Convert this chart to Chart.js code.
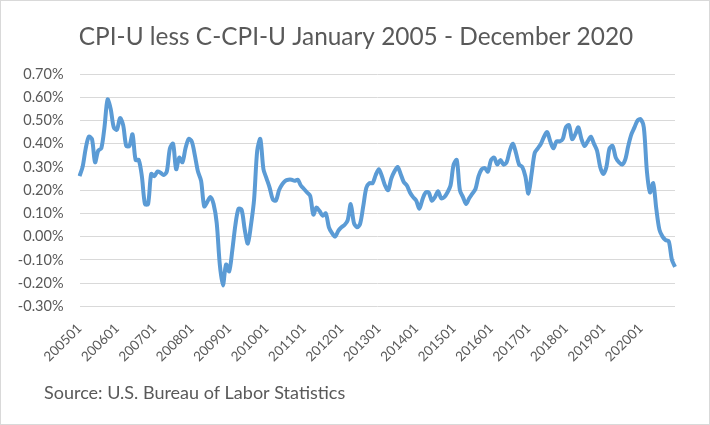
<!DOCTYPE html>
<html><head><meta charset="utf-8">
<script src="https://cdn.jsdelivr.net/npm/chart.js@4/dist/chart.umd.min.js"></script>
<style>html,body{margin:0;padding:0;background:#fff}canvas{display:block}</style>
</head><body>
<canvas id="c" width="710" height="425"></canvas>
<script>
const titleText = "CPI-U less C-CPI-U January 2005 - December 2020";
const sourceText = "Source: U.S. Bureau of Labor Statistics";
const years = [2005,2006,2007,2008,2009,2010,2011,2012,2013,2014,2015,2016,2017,2018,2019,2020];
const monthCodes = ["01","02","03","04","05","06","07","08","09","10","11","12"];
// CPI-U less C-CPI-U, percentage points, one row per year
const diff = [
  0.26,0.30,0.38,0.43,0.42,0.32,0.37,0.38,0.47,0.59,0.55,0.47,
  0.46,0.51,0.48,0.39,0.39,0.44,0.33,0.33,0.26,0.14,0.14,0.27,
  0.26,0.28,0.275,0.265,0.28,0.38,0.40,0.29,0.34,0.32,0.38,0.42,
  0.41,0.35,0.28,0.24,0.13,0.15,0.17,0.14,0.06,-0.12,-0.21,-0.12,
  -0.15,-0.06,0.05,0.12,0.115,0.03,-0.03,0.05,0.16,0.37,0.42,0.29,
  0.25,0.21,0.16,0.155,0.20,0.225,0.24,0.245,0.245,0.24,0.245,0.22,
  0.205,0.19,0.175,0.095,0.125,0.11,0.09,0.10,0.04,0.015,0.00,0.025,
  0.04,0.05,0.07,0.14,0.06,0.04,0.055,0.13,0.21,0.23,0.23,0.265,
  0.29,0.26,0.22,0.20,0.25,0.28,0.30,0.27,0.235,0.22,0.19,0.17,
  0.155,0.12,0.16,0.19,0.19,0.155,0.17,0.195,0.165,0.17,0.19,0.22,
  0.31,0.33,0.20,0.17,0.14,0.165,0.185,0.205,0.26,0.29,0.295,0.28,
  0.33,0.34,0.31,0.33,0.31,0.32,0.37,0.40,0.36,0.31,0.30,0.26,
  0.185,0.27,0.36,0.38,0.40,0.43,0.45,0.41,0.38,0.41,0.41,0.42,
  0.47,0.48,0.42,0.44,0.47,0.42,0.39,0.41,0.43,0.40,0.37,0.30,
  0.27,0.30,0.38,0.39,0.34,0.32,0.31,0.33,0.39,0.44,0.47,0.50,
  0.505,0.47,0.28,0.19,0.23,0.12,0.03,0.00,-0.015,-0.02,-0.10,-0.13
];
const yTicks = [-0.3,-0.2,-0.1,0,0.1,0.2,0.3,0.4,0.5,0.6,0.7];

const labels = [];
years.forEach(y => monthCodes.forEach(m => labels.push(String(y) + m)));

const textColor = "#595959";
const decor = {
  id: "decor",
  afterDraw(chart) {
    const ctx = chart.ctx;
    ctx.save();
    ctx.strokeStyle = "#d9d9d9";
    ctx.lineWidth = 1;
    ctx.strokeRect(0.5, 0.5, chart.width - 1, chart.height - 1);
    ctx.fillStyle = textColor;
    ctx.textBaseline = "middle";
    ctx.textAlign = "center";
    ctx.font = "24.4px Lato";
    ctx.fillText(titleText, 356, 37);
    ctx.textAlign = "left";
    ctx.font = "18px Lato";
    ctx.fillText(sourceText, 44, 393);
    ctx.restore();
  }
};

new Chart(document.getElementById("c"), {
  type: "line",
  data: {
    labels: labels,
    datasets: [{
      data: diff,
      borderColor: "#5b9bd5",
      borderWidth: 4,
      pointRadius: 0,
      tension: 0.3,
      fill: false
    }]
  },
  options: {
    responsive: false,
    animation: false,
    layout: { padding: { top: 74, right: 35, bottom: 58.7, left: 0 } },
    plugins: { legend: { display: false }, tooltip: { enabled: false } },
    scales: {
      x: {
        offset: false,
        grid: { display: false },
        border: { display: false },
        ticks: {
          autoSkip: false,
          maxRotation: 45,
          minRotation: 45,
          padding: 6,
          color: textColor,
          font: { family: "Lato", size: 13.5 },
          callback: function(v, i) { return i % 12 === 0 ? labels[i] : null; }
        },
        afterFit(scale) { scale.height = 60; }
      },
      y: {
        min: -0.3, max: 0.7,
        afterBuildTicks(scale) { scale.ticks = yTicks.map(v => ({ value: v })); },
        grid: { color: "#d9d9d9", lineWidth: 1, drawTicks: false },
        border: { display: false },
        ticks: {
          padding: 16,
          color: textColor,
          font: { family: "Lato", size: 14.5 },
          callback: v => v.toFixed(2) + "%"
        },
        afterFit(scale) { scale.width = 79.5; }
      }
    }
  },
  plugins: [decor]
});
</script>
</body></html>
